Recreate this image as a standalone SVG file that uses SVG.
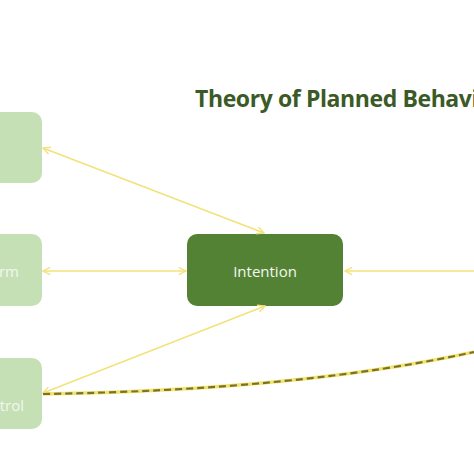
<svg xmlns="http://www.w3.org/2000/svg" width="474" height="474" viewBox="0 0 474 474">
<style>
.side{fill:#c5e0b4}
.main{fill:#548235}
.lbl{font-family:"Open Sans","Liberation Sans",sans-serif;font-size:15px;fill:#f2f8ee}
.title{font-family:"Open Sans","Liberation Sans",sans-serif;font-size:23px;font-weight:bold;fill:#3b5a26;letter-spacing:-0.4px}
.conn{fill:none;stroke:#f2e27a;stroke-width:1.5}
</style>
<defs>
<marker id="ah" viewBox="0 0 10 10" refX="9" refY="5" markerWidth="9" markerHeight="9" markerUnits="userSpaceOnUse" orient="auto-start-reverse">
<path d="M1,1 L9,5 L1,9" fill="none" stroke="#f2e27a" stroke-width="1.5"/>
</marker>
</defs>
<rect width="474" height="474" fill="#ffffff"/>
<text class="title" x="195" y="107">Theory of Planned Behavior</text>
<g id="attitude">
<rect class="side" x="-114" y="112" width="156" height="71" rx="10"/>
</g>
<g id="subjective-norm">
<rect class="side" x="-114" y="234" width="156" height="72" rx="10"/>
<text class="lbl" x="19" y="277" text-anchor="end">Subjective Norm</text>
</g>
<g id="pbc">
<rect class="side" x="-114" y="358" width="156" height="71" rx="10"/>
<text class="lbl" x="24" y="411" text-anchor="end">Perceived Behavioral Control</text>
</g>
<g id="intention">
<rect class="main" x="187" y="234" width="156" height="72" rx="10"/>
<text class="lbl" x="265" y="277" text-anchor="middle">Intention</text>
</g>
<g id="connectors">
<line class="conn" x1="43" y1="148" x2="264" y2="233" marker-start="url(#ah)" marker-end="url(#ah)"/>
<line class="conn" x1="43" y1="271" x2="186" y2="271" marker-start="url(#ah)" marker-end="url(#ah)"/>
<line class="conn" x1="43" y1="393" x2="265" y2="306" marker-start="url(#ah)" marker-end="url(#ah)"/>
<line class="conn" x1="480" y1="271" x2="345" y2="271" marker-end="url(#ah)"/>
<path d="M43,394 Q300,390 474,352" fill="none" stroke="#f4e36c" stroke-width="3.5"/>
<path d="M43,394 Q300,390 474,352" fill="none" stroke="#76722f" stroke-width="2.2" stroke-dasharray="7,4"/>
</g>
</svg>
